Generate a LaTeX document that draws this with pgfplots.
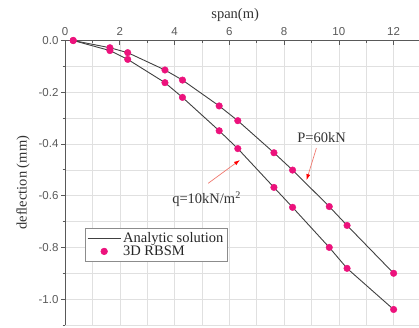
\documentclass[border=0pt]{standalone}
\usepackage{pgfplots}
\pgfplotsset{compat=1.18}
\usepackage{fontspec}
\setmainfont{Liberation Serif}
\newfontfamily\tickfont{Liberation Sans}
\usetikzlibrary{arrows.meta}
\definecolor{pinkm}{RGB}{236,18,124}
\definecolor{linec}{RGB}{64,64,64}
\definecolor{arr}{RGB}{240,120,110}
\pgfplotsset{
  lineleg/.style={legend image code/.code={\draw[##1] (0pt,0pt) -- (33pt,0pt);}},
  markleg/.style={legend image code/.code={\draw[##1] plot coordinates {(16.5pt,0pt)};}},
}
\begin{document}
\begin{tikzpicture}
\begin{axis}[
  at={(0,0)}, anchor=south west, scale only axis,
  width=356pt, height=284.5pt,
  xmin=0, xmax=13, ymin=-1.1, ymax=0,
  axis x line*=top, axis y line*=left,
  axis line style={-, draw=black!65, line width=0.8pt},
  xtick={0,2,...,12}, minor xtick={1,3,...,13},
  ytick={-1,-0.8,-0.6,-0.4,-0.2,0},
  minor ytick={-1.1,-0.9,-0.7,-0.5,-0.3,-0.1},
  grid=both,
  major grid style={black!12, line width=0.5pt},
  minor grid style={black!12, line width=0.5pt},
  tick align=inside,
  major tick length=4pt, minor tick length=2.5pt,
  tick style={black!65, line width=0.7pt},
  major y tick style={xshift=-4pt},
  minor y tick style={xshift=-2.5pt},
  /pgf/number format/assume math mode=true,
  ticklabel style={font=\tickfont\fontsize{11.5}{13}\selectfont, text=black!65},
  yticklabel style={/pgf/number format/fixed, /pgf/number format/fixed zerofill, /pgf/number format/precision=1, xshift=-3pt},
  xticklabel style={yshift=1pt},
  xlabel={span(m)}, ylabel={deflection (mm)},
  xlabel style={at={(axis description cs:0.478,1.088)}, anchor=center, font=\fontsize{14.5}{16}\selectfont, text=black!80},
  ylabel style={at={(axis description cs:-0.118,0.5)}, anchor=center, font=\fontsize{14.5}{16}\selectfont, text=black!80},
  legend style={at={(axis description cs:0.056,0.341)}, anchor=north west, draw=black!45, line width=0.6pt,
    font=\fontsize{14.5}{16}\selectfont, text=black!85, row sep=-2pt, inner sep=2pt, fill=white},
  legend cell align=left,
  clip=false,
]
\addplot[linec, line width=0.9pt, no markers, lineleg]
  coordinates {(0.3,0) (1.64,-0.028) (2.29,-0.047) (3.65,-0.114) (4.29,-0.153) (5.63,-0.253) (6.31,-0.310) (7.63,-0.434) (8.31,-0.501) (9.65,-0.642) (10.3,-0.715) (12,-0.900)};
\addlegendentry{Analytic solution}
\addplot[linec, line width=0.9pt, no markers, forget plot]
  coordinates {(0.3,0) (1.64,-0.039) (2.29,-0.073) (3.65,-0.163) (4.29,-0.220) (5.63,-0.349) (6.31,-0.418) (7.63,-0.568) (8.31,-0.645) (9.65,-0.800) (10.3,-0.881) (12,-1.040)};
\addplot[only marks, mark=*, mark size=3.3pt, pinkm, mark options={draw=pinkm, fill=pinkm}, markleg]
  coordinates {(0.3,0) (1.64,-0.028) (2.29,-0.047) (3.65,-0.114) (4.29,-0.153) (5.63,-0.253) (6.31,-0.310) (7.63,-0.434) (8.31,-0.501) (9.65,-0.642) (10.3,-0.715) (12,-0.900)};
\addlegendentry{3D RBSM}
\addplot[only marks, mark=*, mark size=3.3pt, pinkm, mark options={draw=pinkm, fill=pinkm}, forget plot]
  coordinates {(0.3,0) (1.64,-0.039) (2.29,-0.073) (3.65,-0.163) (4.29,-0.220) (5.63,-0.349) (6.31,-0.418) (7.63,-0.568) (8.31,-0.645) (9.65,-0.800) (10.3,-0.881) (12,-1.040)};
\node[font=\fontsize{14.5}{16}\selectfont, text=black!80] at (axis cs:9.37,-0.374) {P=60kN};
\draw[arr, line width=0.7pt, -{Latex[length=6pt,width=4pt,fill=red,color=red]}] (axis cs:9.18,-0.416) -- (axis cs:8.82,-0.54);
\node[font=\fontsize{14.5}{16}\selectfont, text=black!80] at (axis cs:5.17,-0.613) {q=10kN/m\textsuperscript{2}};
\draw[arr, line width=0.7pt, -{Latex[length=6pt,width=4pt,fill=red,color=red]}] (axis cs:5.23,-0.552) -- (axis cs:6.39,-0.462);
\end{axis}
\pgfresetboundingbox
\path (-65pt,-2pt) rectangle (354pt,325pt);
\end{tikzpicture}
\end{document}
